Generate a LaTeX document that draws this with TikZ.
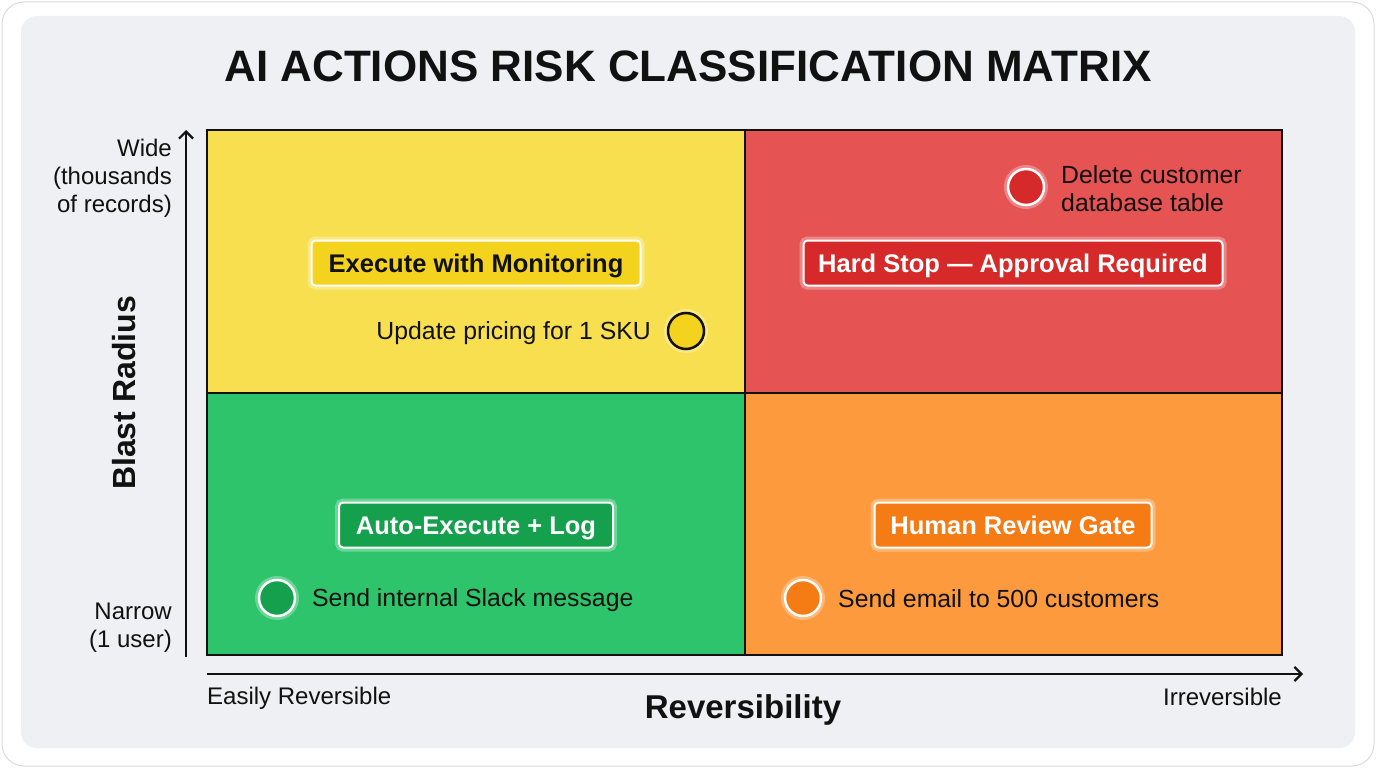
\documentclass[tikz,border=0pt]{standalone}
\usepackage{fontspec}
\setmainfont{Liberation Sans}
\usetikzlibrary{arrows.meta}
\definecolor{panel}{HTML}{EEF0F3}
\definecolor{cardline}{HTML}{D8DBE0}
\definecolor{qyel}{HTML}{F8DF50}
\definecolor{qred}{HTML}{E55353}
\definecolor{qgrn}{HTML}{2EC46B}
\definecolor{qorg}{HTML}{FD9A3D}
\definecolor{byel}{HTML}{F3D31E}
\definecolor{bred}{HTML}{D62A2A}
\definecolor{bgrn}{HTML}{14A04C}
\definecolor{borg}{HTML}{F57C14}
\definecolor{ink}{HTML}{111111}
\tikzset{
  x=1pt, y=-1pt,
  quad/.style={draw=ink, line width=2.5pt},
  tag/.style={rounded corners=4pt, draw=white, line width=2pt, inner xsep=0pt, inner ysep=0pt,
    minimum height=45pt, text height=19.5pt, text depth=1.5pt,
    font=\fontsize{25.5}{28}\selectfont\bfseries,
    preaction={draw=white, draw opacity=0.3, line width=8pt}},
  dot/.style={circle, minimum size=36pt, inner sep=0pt, draw=white, line width=2.5pt,
    preaction={draw=white, draw opacity=0.3, line width=8pt}},
  item/.style={font=\fontsize{24.8}{28}\selectfont, text=ink, inner sep=0pt},
  tick/.style={font=\fontsize{24}{28}\selectfont, text=ink, inner sep=0pt, align=right},
  axis/.style={line width=2.2pt, draw=ink, -{Straight Barb[length=7pt,width=14pt]}},
}
\begin{document}
\begin{tikzpicture}
\useasboundingbox (0,0) rectangle (1376,768);
% card
\fill[white] (0,0) rectangle (1376,768);
\draw[cardline, line width=1pt, rounded corners=22pt] (2,2) rectangle (1374,766);
\fill[panel, rounded corners=16pt] (21,16) rectangle (1355,748);
% title
\node[font=\fontsize{44}{50}\selectfont\bfseries, text=ink] (title) at (688,66) {AI ACTIONS RISK CLASSIFICATION MATRIX};
% quadrants
\fill[qyel] (207,130) rectangle (745,393);
\fill[qred] (745,130) rectangle (1282,393);
\fill[qgrn] (207,393) rectangle (745,655);
\fill[qorg] (745,393) rectangle (1282,655);
\draw[quad] (207,130) rectangle (1282,655);
\draw[quad] (745,130) -- (745,655);
\draw[quad] (207,393) -- (1282,393);
% tags
\node[tag, fill=byel, text=ink, minimum width=329pt] (t1) at (476,263) {Execute with Monitoring};
\node[tag, fill=bred, text=white, minimum width=419pt] (t2) at (1013,263) {Hard Stop — Approval Required};
\node[tag, fill=bgrn, text=white, minimum width=274pt] (t3) at (476,525) {Auto-Execute + Log};
\node[tag, fill=borg, text=white, minimum width=277pt] (t4) at (1013,525) {Human Review Gate};
% dots and items
\node[dot, fill=byel, draw=ink] (d1) at (686,331) {};
\node[item, anchor=east] (i1) at (651,333) {Update pricing for 1 SKU};
\node[dot, fill=bred] (d2) at (1026,187) {};
\node[item, anchor=west, align=left] (i2) at (1061,189) {Delete customer\\database table};
\node[dot, fill=bgrn] (d3) at (277,598) {};
\node[item, anchor=west] (i3) at (312,600) {Send internal Slack message};
\node[dot, fill=borg] (d4) at (803,598) {};
\node[item, anchor=west] (i4) at (838,599) {Send email to 500 customers};
% axes
\coordinate (ybot) at (186,657);
\coordinate (ytop) at (186,130);
\draw[axis] (ybot) -- (ytop);
\coordinate (xl) at (207,674);
\coordinate (xr) at (1303,674);
\draw[axis] (xl) -- (xr);
\node[tick, anchor=east] (wide) at (172,178) {Wide\\(thousands\\of records)};
\node[tick, anchor=east] (narrow) at (172,628) {Narrow\\(1 user)};
\node[tick, anchor=west] (easy) at (207,698) {Easily Reversible};
\node[tick, anchor=east] (irr) at (1282,697) {Irreversible};
\node[font=\fontsize{33}{36}\selectfont\bfseries, text=ink] (xlab) at (743,710) {Reversibility};
\node[font=\fontsize{32}{36}\selectfont\bfseries, text=ink, rotate=90] (ylab) at (124,393) {Blast Radius};
\end{tikzpicture}
\end{document}
